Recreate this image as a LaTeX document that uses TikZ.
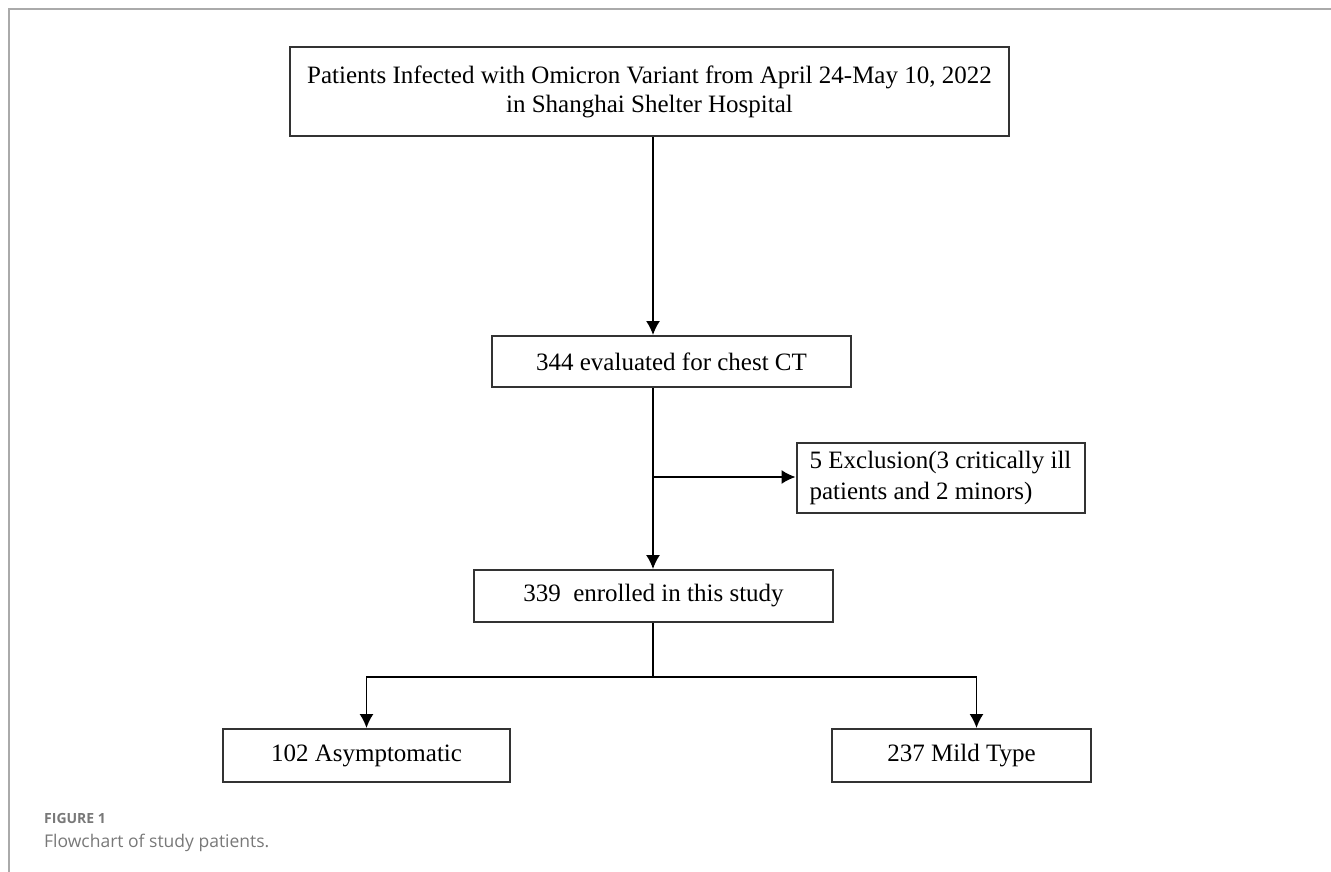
\documentclass[tikz,border=0pt]{standalone}
\usepackage{fontspec}
\setmainfont{Liberation Serif}
\newfontfamily\capfont{Open Sans}
\usetikzlibrary{arrows.meta,positioning}
\definecolor{boxline}{RGB}{51,51,51}
\definecolor{framegray}{RGB}{170,170,170}
\definecolor{capgray}{RGB}{120,120,120}
\tikzset{
  flowbox/.style={draw=boxline, line width=2pt, minimum height=52pt, inner sep=0pt,
    font=\fontsize{25}{29}\selectfont, align=center},
  flowarrow/.style={line width=1.5pt, -{Latex[length=14pt,width=14pt]}},
  flowline/.style={line width=1.5pt}
}
\begin{document}
\begin{tikzpicture}[x=1pt,y=-1pt]
\useasboundingbox (0,0) rectangle (1331,872);
\draw [framegray, line width=2pt] (9,872) -- (9,9) -- (1331,9);

\node [flowbox, minimum width=719pt, minimum height=89pt] (patients) at (649.5,91.5)
  {Patients Infected with Omicron Variant from April 24-May 10, 2022\\in Shanghai Shelter Hospital};
\node [flowbox, minimum width=359pt, minimum height=51pt] (evaluated) at (671.5,361.5)
  {344 evaluated for chest CT};
\node [flowbox, minimum width=288pt, minimum height=70pt, align=left,
  font=\fontsize{25}{31}\selectfont] (exclusion) at (940.5,478)
  {5 Exclusion(3 critically ill\\patients and 2 minors)};
\node [flowbox, minimum width=359pt] (enrolled) at (653.5,596)
  {339\ \ enrolled in this study};
\node [flowbox, minimum width=287pt, minimum height=53pt] (asym) at (366.5,755.5) {102 Asymptomatic};
\node [flowbox, minimum width=259pt, minimum height=53pt] (mild) at (961.5,755.5) {237 Mild Type};

\coordinate (spine) at (653,0);
\coordinate (split) at (653,477);
\coordinate (fork) at (653,677);

\draw [flowarrow] (patients.south -| spine) -- (evaluated.north -| spine);
\draw [flowarrow] (evaluated.south -| spine) -- (enrolled.north -| spine);
\draw [flowarrow] (split) -- (split -| exclusion.west);
\draw [flowline] (enrolled.south -| spine) -- (fork);
\draw [flowarrow] (fork) -| (asym.north);
\draw [flowarrow] (fork) -| ([xshift=15pt]mild.north);

% caption
\node [anchor=base west, inner sep=0pt, capgray, font=\capfont\bfseries\fontsize{14}{16}\selectfont] (figlabel) at (44,823) {FIGURE 1};
\node [anchor=base west, inner sep=0pt, capgray, font=\capfont\fontsize{17.5}{20}\selectfont] (figcaption) at (44,847) {Flowchart of study patients.};
\end{tikzpicture}
\end{document}
